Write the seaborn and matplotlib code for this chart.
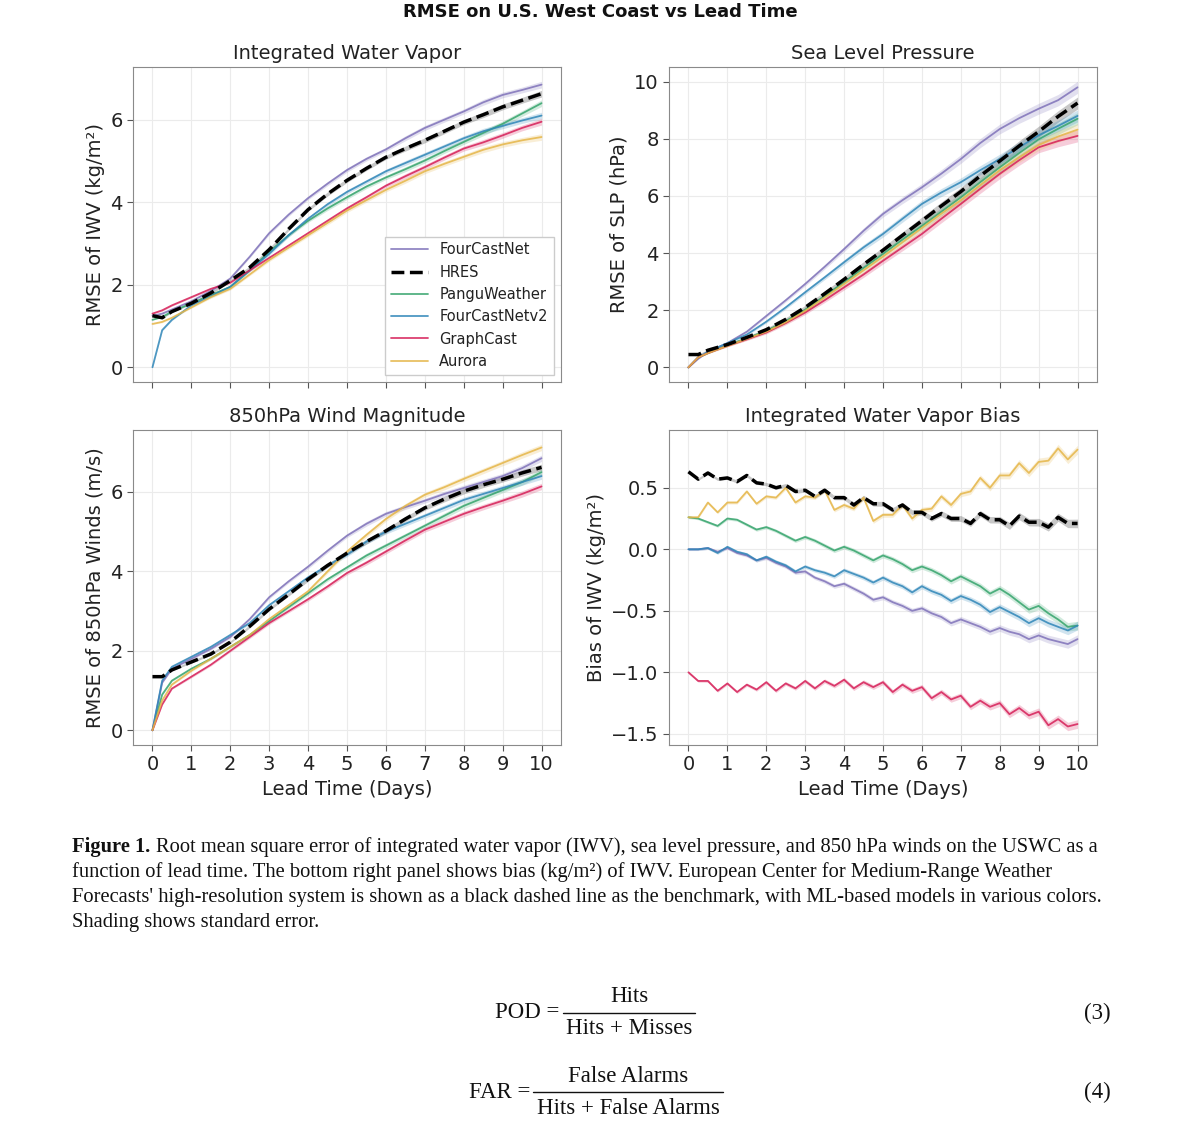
import matplotlib
matplotlib.use("Agg")
import matplotlib.pyplot as plt
from matplotlib.lines import Line2D
from matplotlib.ticker import MultipleLocator
import seaborn as sns

# модели и цвета
models = ["FourCastNet", "HRES", "PanguWeather", "FourCastNetv2", "GraphCast", "Aurora"]
colors = {
    "FourCastNet": "#7f72b9",
    "HRES": "#000000",
    "PanguWeather": "#35a46c",
    "FourCastNetv2": "#2f86b8",
    "GraphCast": "#d61f58",
    "Aurora": "#e5b648",
}

# время прогноза (дни)
lead_rmse = [0, 0.25, 0.5, 1, 1.5, 2, 2.5, 3, 3.5, 4, 4.5, 5, 5.5, 6, 6.5, 7, 7.5, 8, 8.5, 9, 9.5, 10]
lead_bias = [0, 0.25, 0.5, 0.75, 1, 1.25, 1.5, 1.75, 2, 2.25, 2.5, 2.75, 3, 3.25, 3.5, 3.75,
             4, 4.25, 4.5, 4.75, 5, 5.25, 5.5, 5.75, 6, 6.25, 6.5, 6.75, 7, 7.25, 7.5, 7.75,
             8, 8.25, 8.5, 8.75, 9, 9.25, 9.5, 9.75, 10]

# RMSE IWV
iwv_fourcastnet = [1.25, 1.3, 1.4, 1.6, 1.85, 2.15, 2.68, 3.25, 3.7, 4.1, 4.45, 4.78, 5.05, 5.28, 5.55, 5.8, 6.0, 6.2, 6.42, 6.6, 6.72, 6.85]
iwv_hres = [1.25, 1.2, 1.35, 1.55, 1.8, 2.1, 2.42, 2.85, 3.35, 3.82, 4.2, 4.53, 4.82, 5.09, 5.3, 5.5, 5.72, 5.94, 6.12, 6.31, 6.47, 6.63]
iwv_pangu = [1.15, 1.22, 1.35, 1.55, 1.75, 1.95, 2.35, 2.8, 3.2, 3.55, 3.85, 4.12, 4.38, 4.6, 4.8, 5.01, 5.24, 5.46, 5.68, 5.9, 6.15, 6.4]
iwv_fcnv2 = [0.0, 0.9, 1.15, 1.5, 1.72, 1.95, 2.35, 2.75, 3.2, 3.6, 3.95, 4.25, 4.5, 4.75, 4.95, 5.15, 5.35, 5.55, 5.72, 5.85, 5.98, 6.1]
iwv_graphcast = [1.3, 1.38, 1.5, 1.7, 1.9, 2.05, 2.35, 2.65, 2.95, 3.25, 3.55, 3.85, 4.12, 4.4, 4.63, 4.85, 5.08, 5.3, 5.45, 5.62, 5.8, 5.95]
iwv_aurora = [1.05, 1.1, 1.2, 1.45, 1.7, 1.9, 2.25, 2.6, 2.9, 3.2, 3.5, 3.8, 4.05, 4.3, 4.52, 4.75, 4.93, 5.1, 5.27, 5.4, 5.5, 5.58]
se_iwv = [0.01, 0.02, 0.02, 0.02, 0.03, 0.03, 0.03, 0.04, 0.04, 0.04, 0.05, 0.05, 0.05, 0.05, 0.06, 0.06, 0.06, 0.06, 0.07, 0.07, 0.07, 0.08]

# RMSE SLP
slp_fourcastnet = [0.0, 0.3, 0.55, 0.85, 1.25, 1.8, 2.35, 2.92, 3.52, 4.14, 4.78, 5.37, 5.85, 6.3, 6.78, 7.29, 7.85, 8.34, 8.72, 9.05, 9.35, 9.8]
slp_hres = [0.45, 0.45, 0.6, 0.8, 1.05, 1.32, 1.68, 2.1, 2.58, 3.08, 3.6, 4.1, 4.62, 5.13, 5.65, 6.15, 6.7, 7.22, 7.75, 8.25, 8.78, 9.25]
slp_pangu = [0.0, 0.35, 0.5, 0.78, 1.02, 1.28, 1.62, 2.02, 2.5, 2.98, 3.48, 3.97, 4.47, 4.95, 5.45, 5.95, 6.48, 7.0, 7.5, 7.98, 8.35, 8.7]
slp_fcnv2 = [0.0, 0.35, 0.55, 0.85, 1.15, 1.6, 2.1, 2.63, 3.15, 3.68, 4.2, 4.67, 5.2, 5.72, 6.12, 6.48, 6.9, 7.29, 7.7, 8.12, 8.45, 8.8]
slp_graphcast = [0.0, 0.35, 0.5, 0.75, 0.98, 1.22, 1.55, 1.92, 2.35, 2.8, 3.25, 3.73, 4.2, 4.67, 5.2, 5.72, 6.25, 6.77, 7.25, 7.7, 7.92, 8.1]
slp_aurora = [0.0, 0.35, 0.5, 0.75, 1.0, 1.25, 1.58, 1.98, 2.45, 2.92, 3.4, 3.88, 4.38, 4.88, 5.38, 5.85, 6.38, 6.9, 7.35, 7.78, 8.08, 8.32]
se_slp = [0.01, 0.02, 0.02, 0.03, 0.04, 0.05, 0.06, 0.07, 0.08, 0.09, 0.1, 0.11, 0.12, 0.13, 0.14, 0.15, 0.16, 0.17, 0.18, 0.19, 0.2, 0.21]

# RMSE ветра 850 гПа
wind_fourcastnet = [0.0, 1.2, 1.55, 1.8, 2.05, 2.35, 2.8, 3.35, 3.75, 4.12, 4.52, 4.9, 5.2, 5.45, 5.62, 5.78, 5.95, 6.1, 6.25, 6.4, 6.6, 6.85]
wind_hres = [1.35, 1.35, 1.52, 1.72, 1.92, 2.22, 2.62, 3.05, 3.42, 3.8, 4.15, 4.46, 4.75, 5.02, 5.32, 5.6, 5.82, 6.02, 6.18, 6.32, 6.48, 6.62]
wind_pangu = [0.0, 0.9, 1.25, 1.55, 1.8, 2.1, 2.4, 2.75, 3.1, 3.45, 3.8, 4.1, 4.4, 4.65, 4.9, 5.15, 5.4, 5.65, 5.85, 6.05, 6.25, 6.5]
wind_fcnv2 = [0.0, 1.25, 1.6, 1.85, 2.1, 2.4, 2.7, 3.15, 3.5, 3.85, 4.15, 4.42, 4.75, 5.0, 5.2, 5.4, 5.6, 5.8, 5.95, 6.1, 6.25, 6.4]
wind_graphcast = [0.0, 0.65, 1.05, 1.35, 1.65, 2.0, 2.35, 2.7, 3.0, 3.3, 3.62, 3.96, 4.22, 4.5, 4.78, 5.05, 5.25, 5.45, 5.62, 5.78, 5.95, 6.14]
wind_aurora = [0.0, 0.75, 1.15, 1.5, 1.8, 2.1, 2.4, 2.8, 3.15, 3.5, 4.0, 4.5, 4.92, 5.32, 5.65, 5.93, 6.12, 6.33, 6.53, 6.73, 6.93, 7.12]
se_wind = [0.01, 0.02, 0.02, 0.03, 0.03, 0.03, 0.04, 0.04, 0.04, 0.05, 0.05, 0.05, 0.06, 0.06, 0.06, 0.06, 0.07, 0.07, 0.07, 0.07, 0.08, 0.08]

# смещение IWV
bias_fourcastnet = [0.0, 0.0, 0.01, -0.02, 0.01, -0.03, -0.05, -0.09, -0.07, -0.11, -0.14, -0.19, -0.18, -0.23, -0.26, -0.30,
                    -0.28, -0.32, -0.36, -0.41, -0.39, -0.43, -0.46, -0.50, -0.48, -0.52, -0.55, -0.60, -0.57, -0.60, -0.63,
                    -0.67, -0.64, -0.67, -0.69, -0.73, -0.70, -0.73, -0.75, -0.77, -0.73]
bias_hres = [0.63, 0.57, 0.62, 0.57, 0.58, 0.55, 0.60, 0.54, 0.53, 0.50, 0.52, 0.47, 0.48, 0.43, 0.48, 0.42, 0.42, 0.36,
             0.42, 0.37, 0.37, 0.32, 0.36, 0.30, 0.30, 0.25, 0.29, 0.25, 0.25, 0.21, 0.29, 0.24, 0.24, 0.19, 0.27, 0.22,
             0.22, 0.18, 0.26, 0.21, 0.21]
bias_pangu = [0.26, 0.25, 0.22, 0.19, 0.25, 0.24, 0.20, 0.16, 0.18, 0.15, 0.11, 0.07, 0.10, 0.07, 0.03, -0.01, 0.02, -0.01,
              -0.05, -0.09, -0.05, -0.08, -0.12, -0.17, -0.14, -0.17, -0.21, -0.26, -0.22, -0.26, -0.30, -0.36, -0.32,
              -0.37, -0.43, -0.49, -0.46, -0.52, -0.57, -0.63, -0.62]
bias_fcnv2 = [0.0, 0.0, 0.01, -0.03, 0.02, -0.02, -0.04, -0.09, -0.06, -0.10, -0.13, -0.18, -0.14, -0.17, -0.19, -0.22,
              -0.17, -0.20, -0.23, -0.27, -0.23, -0.27, -0.30, -0.35, -0.30, -0.34, -0.37, -0.42, -0.38, -0.41, -0.45,
              -0.51, -0.47, -0.51, -0.55, -0.60, -0.56, -0.60, -0.63, -0.66, -0.62]
bias_graphcast = [-1.00, -1.07, -1.07, -1.15, -1.09, -1.16, -1.10, -1.14, -1.08, -1.15, -1.09, -1.13, -1.07, -1.13, -1.07,
                  -1.11, -1.06, -1.13, -1.08, -1.12, -1.08, -1.16, -1.10, -1.15, -1.12, -1.21, -1.16, -1.22, -1.19, -1.28,
                  -1.23, -1.28, -1.25, -1.34, -1.29, -1.35, -1.32, -1.43, -1.38, -1.44, -1.42]
bias_aurora = [0.26, 0.26, 0.38, 0.30, 0.38, 0.38, 0.47, 0.37, 0.43, 0.42, 0.50, 0.38, 0.43, 0.42, 0.48, 0.32, 0.36, 0.33,
               0.42, 0.23, 0.28, 0.28, 0.36, 0.25, 0.32, 0.33, 0.43, 0.36, 0.45, 0.47, 0.58, 0.50, 0.60, 0.60, 0.70, 0.62,
               0.71, 0.72, 0.82, 0.73, 0.81]
se_bias = [0.010, 0.010, 0.011, 0.011, 0.012, 0.012, 0.013, 0.013, 0.014, 0.014, 0.015, 0.015, 0.016, 0.016, 0.017, 0.017,
           0.018, 0.018, 0.019, 0.019, 0.020, 0.020, 0.021, 0.021, 0.022, 0.022, 0.023, 0.023, 0.024, 0.024, 0.025, 0.026,
           0.027, 0.028, 0.029, 0.030, 0.031, 0.032, 0.033, 0.034, 0.035]

W, H = 1200, 1143


def fx(px):
    return px / W


def fy(py):
    return 1 - py / H


sns.set_style("whitegrid", {
    "grid.color": "#ebebeb",
    "axes.edgecolor": "#8a8a8a",
    "xtick.bottom": True,
    "ytick.left": True,
    "xtick.color": "#222222",
    "ytick.color": "#222222",
    "axes.labelcolor": "#222222",
    "text.color": "#222222",
})
plt.rcParams["font.family"] = ["DejaVu Sans"]
plt.rcParams["axes.unicode_minus"] = True

fig, axes = plt.subplots(2, 2, figsize=(12, 11.43), dpi=100, sharex=True)

panels = [
    (axes[0, 0], lead_rmse, [iwv_fourcastnet, iwv_hres, iwv_pangu, iwv_fcnv2, iwv_graphcast, iwv_aurora], se_iwv,
     "Integrated Water Vapor", "RMSE of IWV (kg/m²)", (133, 67), 2),
    (axes[0, 1], lead_rmse, [slp_fourcastnet, slp_hres, slp_pangu, slp_fcnv2, slp_graphcast, slp_aurora], se_slp,
     "Sea Level Pressure", "RMSE of SLP (hPa)", (669, 67), 2),
    (axes[1, 0], lead_rmse, [wind_fourcastnet, wind_hres, wind_pangu, wind_fcnv2, wind_graphcast, wind_aurora], se_wind,
     "850hPa Wind Magnitude", "RMSE of 850hPa Winds (m/s)", (133, 430), 2),
    (axes[1, 1], lead_bias, [bias_fourcastnet, bias_hres, bias_pangu, bias_fcnv2, bias_graphcast, bias_aurora], se_bias,
     "Integrated Water Vapor Bias", "Bias of IWV (kg/m²)", (669, 430), 0.5),
]

for ax, lead, series, se, title, ylabel, (left, top), ystep in panels:
    ax.set_position([fx(left), fy(top + 315), 428 / W, 315 / H])
    for model, vals in zip(models, series):
        c = colors[model]
        lo = [v - s for v, s in zip(vals, se)]
        hi = [v + s for v, s in zip(vals, se)]
        ax.fill_between(lead, lo, hi, color=c, alpha=0.22, lw=0)
        if model == "HRES":
            sns.lineplot(x=lead, y=vals, ax=ax, color=c, lw=2.5, linestyle="--", label=model, zorder=5)
        else:
            sns.lineplot(x=lead, y=vals, ax=ax, color=c, lw=1.3, alpha=0.85, label=model, zorder=3)
    ax.set_title(title, fontsize=14, pad=6)
    ax.set_ylabel(ylabel, fontsize=14)
    ax.set_xlabel("Lead Time (Days)", fontsize=14)
    ax.tick_params(labelsize=14, length=4, width=0.8, color="#555555")
    ax.set_xticks(range(0, 11))
    ax.yaxis.set_major_locator(MultipleLocator(ystep))
    ax.get_legend().remove()

axes[0, 0].legend(loc="lower right", fontsize=10.5, frameon=True, edgecolor="#cccccc", framealpha=1,
                  handlelength=2.5, fancybox=False)

fig.text(0.5, fy(12), "RMSE on U.S. West Coast vs Lead Time", ha="center", va="center",
         fontsize=13, fontweight="bold", color="#111111")

# подпись к рисунку
serif = ["Liberation Serif", "DejaVu Serif"]
cap_size = 14.8
fig.canvas.draw()
renderer = fig.canvas.get_renderer()
t = fig.text(fx(72), fy(847), "Figure 1.", fontsize=cap_size, fontweight="bold", family=serif,
             va="center", color="#111111")
bb = t.get_window_extent(renderer=renderer)
fig.text(bb.x1 / W + fx(6), fy(847),
         "Root mean square error of integrated water vapor (IWV), sea level pressure, and 850 hPa winds on the USWC as a",
         fontsize=cap_size, family=serif, va="center", color="#111111")
caption_rest = [
    "function of lead time. The bottom right panel shows bias (kg/m²) of IWV. European Center for Medium-Range Weather",
    "Forecasts' high-resolution system is shown as a black dashed line as the benchmark, with ML-based models in various colors.",
    "Shading shows standard error.",
]
for i, line in enumerate(caption_rest):
    fig.text(fx(72), fy(872 + 25.5 * i), line, fontsize=cap_size, family=serif, va="center", color="#111111")

# формулы
eq_size = 16.5
fig.text(fx(559), fy(1013), "POD =", fontsize=eq_size, family=serif, ha="right", va="center", color="#111111")
fig.text(fx(629), fy(997), "Hits", fontsize=eq_size, family=serif, ha="center", va="center", color="#111111")
fig.text(fx(629), fy(1029), "Hits + Misses", fontsize=eq_size, family=serif, ha="center", va="center", color="#111111")
fig.add_artist(Line2D([fx(563), fx(695)], [fy(1013), fy(1013)], color="#111111", lw=1))
fig.text(fx(1111), fy(1013), "(3)", fontsize=eq_size, family=serif, ha="right", va="center", color="#111111")

fig.text(fx(530), fy(1092), "FAR =", fontsize=eq_size, family=serif, ha="right", va="center", color="#111111")
fig.text(fx(628), fy(1076), "False Alarms", fontsize=eq_size, family=serif, ha="center", va="center", color="#111111")
fig.text(fx(628), fy(1108), "Hits + False Alarms", fontsize=eq_size, family=serif, ha="center", va="center", color="#111111")
fig.add_artist(Line2D([fx(533), fx(723)], [fy(1092), fy(1092)], color="#111111", lw=1))
fig.text(fx(1111), fy(1092), "(4)", fontsize=eq_size, family=serif, ha="right", va="center", color="#111111")

fig.savefig("out.png", dpi=100)
plt.close(fig)
